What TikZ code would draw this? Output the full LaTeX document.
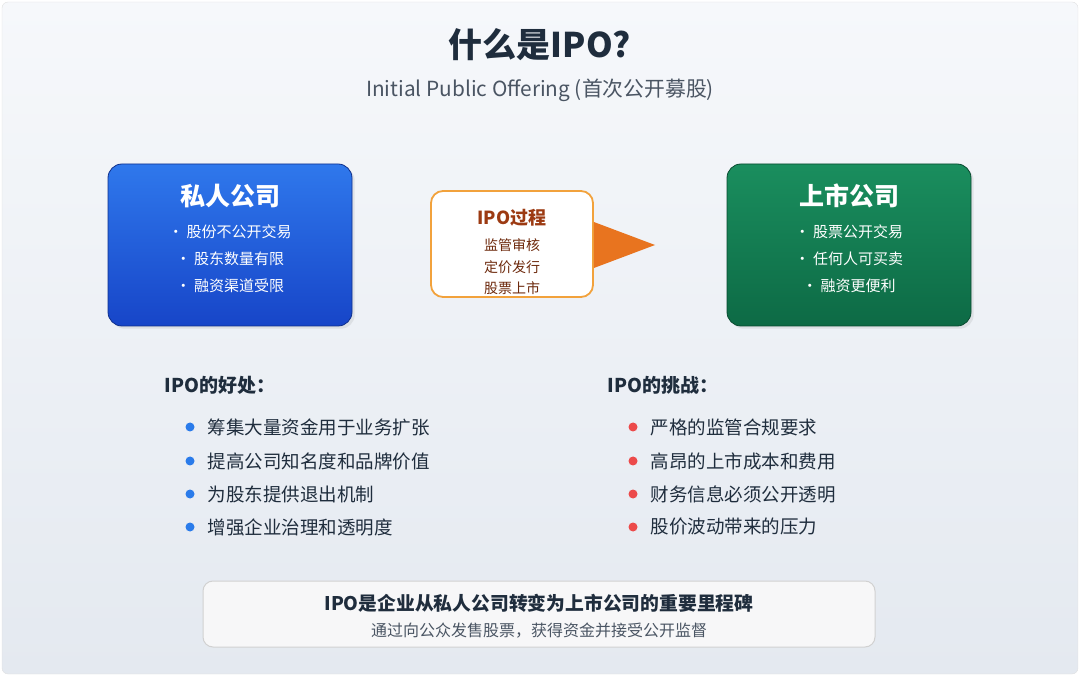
\documentclass[tikz,border=0pt]{standalone}
\usepackage{fontspec}
\setmainfont{Noto Sans CJK SC}
\usetikzlibrary{shadows}
\definecolor{txt}{HTML}{1F2D3D}
\definecolor{sub}{HTML}{4A5563}
\definecolor{blueA}{HTML}{2F78EC}
\definecolor{blueB}{HTML}{1745C8}
\definecolor{greenA}{HTML}{1A8E5E}
\definecolor{greenB}{HTML}{0D6A45}
\definecolor{orng}{HTML}{F2A23C}
\definecolor{orngT}{HTML}{E8741F}
\definecolor{brown}{HTML}{9C3A12}
\definecolor{dotb}{HTML}{2A7BEA}
\definecolor{dotr}{HTML}{EC4A4A}
\definecolor{bgtop}{HTML}{F6F8FB}
\definecolor{bgbot}{HTML}{E4E9F0}
\tikzset{
 comp/.style={rounded corners=14pt, minimum width=244pt, minimum height=162pt, draw=#1!70!black, line width=0.8pt, drop shadow={opacity=0.15}},
 bt/.style={font=\fontsize{25}{28}\selectfont\bfseries, text=white},
 bl/.style={font=\fontsize{15}{18}\selectfont, text=white},
 item/.style={font=\fontsize{18.5}{21}\selectfont, text=txt, anchor=west},
 head/.style={font=\fontsize{19}{21}\selectfont\bfseries, text=txt, anchor=west},
}
\begin{document}
\begin{tikzpicture}[x=1pt,y=-1pt]
\useasboundingbox (0,0) rectangle (1080,676);
\shade[top color=bgtop, bottom color=bgbot, rounded corners=6pt, draw=black!12] (2,2) rectangle (1078,674);
\node[font=\fontsize{34}{38}\selectfont\bfseries, text=txt] (title) at (540,45) {什么是IPO?};
\node[font=\fontsize{20.8}{24}\selectfont, text=sub] (subt) at (540,90) {Initial Public Offering (首次公开募股)};
\node[comp=blueB, top color=blueA, bottom color=blueB] (priv) at (230,245) {};
\node[bt] at (230,196) {私人公司};
\node[bl] at (230,232) {· 股份不公开交易};
\node[bl] at (230,259) {· 股东数量有限};
\node[bl] at (230,286) {· 融资渠道受限};
\node[comp=greenB, top color=greenA, bottom color=greenB] (pub) at (849,245) {};
\node[bt] at (849,196) {上市公司};
\node[bl] at (849,232) {· 股票公开交易};
\node[bl] at (849,259) {· 任何人可买卖};
\node[bl] at (849,286) {· 融资更便利};
\node[draw=orng, line width=1.8pt, fill=white, rounded corners=12pt, minimum width=162pt, minimum height=106pt] (proc) at (512,244) {};
\node[font=\fontsize{18}{20}\selectfont\bfseries, text=brown] at (512,218) {IPO过程};
\foreach \t/\y in {监管审核/245,定价发行/267,股票上市/288}
 \node[font=\fontsize{14}{16}\selectfont, text=brown!70!black] at (512,\y) {\t};
\coordinate (tip) at (655,245);
\fill[orngT] (proc.east|-0,222) -- (tip) -- (proc.east|-0,268) -- cycle;
\node[head] (hb) at (161,385) {IPO的好处：};
\node[head] (hc) at (604,385) {IPO的挑战：};
\foreach \t/\y in {筹集大量资金用于业务扩张/427,提高公司知名度和品牌价值/461,为股东提供退出机制/494,增强企业治理和透明度/527}{
 \fill[dotb] (190,\y) circle (4.5pt);
 \node[item] at (204,\y) {\t};}
\foreach \t/\y in {严格的监管合规要求/427,高昂的上市成本和费用/461,财务信息必须公开透明/494,股价波动带来的压力/527}{
 \fill[dotr] (633,\y) circle (4.5pt);
 \node[item] at (647,\y) {\t};}
\node[draw=black!18, line width=1pt, fill=blue!4!black!3!white, rounded corners=10pt, minimum width=672pt, minimum height=66pt] (foot) at (539,614) {};
\node[font=\fontsize{18.8}{22}\selectfont\bfseries, text=txt] at (539,603) {IPO是企业从私人公司转变为上市公司的重要里程碑};
\node[font=\fontsize{16}{18}\selectfont, text=sub] at (539,631) {通过向公众发售股票，获得资金并接受公开监督};
\end{tikzpicture}
\end{document}
